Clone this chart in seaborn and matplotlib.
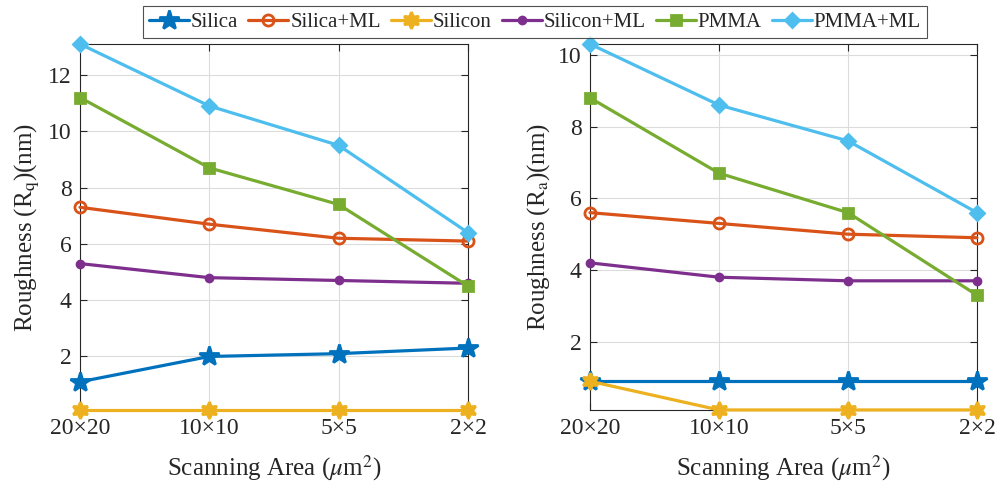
import matplotlib
matplotlib.use("Agg")
import matplotlib.pyplot as plt
import seaborn as sns
import pandas as pd

areas = ["20×20", "10×10", "5×5", "2×2"]
series = ["Silica", "Silica+ML", "Silicon", "Silicon+ML", "PMMA", "PMMA+ML"]

rq_silica = [1.1, 2.0, 2.1, 2.3]
rq_silica_ml = [7.3, 6.7, 6.2, 6.1]
rq_silicon = [0.1, 0.1, 0.1, 0.1]
rq_silicon_ml = [5.3, 4.8, 4.7, 4.6]
rq_pmma = [11.2, 8.7, 7.4, 4.5]
rq_pmma_ml = [13.1, 10.9, 9.5, 6.4]

ra_silica = [0.9, 0.9, 0.9, 0.9]
ra_silica_ml = [5.6, 5.3, 5.0, 4.9]
ra_silicon = [0.9, 0.1, 0.1, 0.1]
ra_silicon_ml = [4.2, 3.8, 3.7, 3.7]
ra_pmma = [8.8, 6.7, 5.6, 3.3]
ra_pmma_ml = [10.3, 8.6, 7.6, 5.6]

rq = [rq_silica, rq_silica_ml, rq_silicon, rq_silicon_ml, rq_pmma, rq_pmma_ml]
ra = [ra_silica, ra_silica_ml, ra_silicon, ra_silicon_ml, ra_pmma, ra_pmma_ml]

colors = ["#0072BD", "#D95319", "#EDB120", "#7E2F8E", "#77AC30", "#4DBEEE"]
markers = ["*", "o", (6, 1, 0), "o", "s", "D"]
msizes = [15, 8, 12, 5, 6.5, 7.5]
mfaces = [None, "none", None, None, None, None]

sns.set_theme(style="whitegrid")
SERIF = ["Liberation Serif", "DejaVu Serif"]
plt.rcParams["font.family"] = SERIF
plt.rcParams["mathtext.fontset"] = "stix"

fig = plt.figure(figsize=(10, 4.84), dpi=100)
ax1 = fig.add_axes([0.080, 0.153, 0.388, 0.756])
ax2 = fig.add_axes([0.590, 0.153, 0.387, 0.756])

def draw(ax, data, ylim, yticks, ylabel):
    for name, vals, c, m, ms, mf in zip(series, data, colors, markers, msizes, mfaces):
        df = pd.DataFrame({"area": areas, "val": vals})
        sns.lineplot(data=df, x="area", y="val", ax=ax, color=c, linewidth=2.3,
                     marker=m, markersize=ms, markeredgecolor=c,
                     markerfacecolor=(mf if mf else c), markeredgewidth=2.0,
                     sort=False, label=name, legend=False, clip_on=False, zorder=3)
    ax.set_xlim(-0.0, 3.0)
    ax.set_ylim(*ylim)
    ax.set_yticks(yticks)
    ax.set_yticklabels([str(t) for t in yticks])
    ax.set_xticks(range(len(areas)))
    ax.set_xticklabels(areas)
    ax.grid(True, color="#DCDCDC", linewidth=0.8)
    ax.set_facecolor("white")
    for s in ax.spines.values():
        s.set_visible(True)
        s.set_color("#262626")
        s.set_linewidth(0.8)
    ax.tick_params(direction="in", length=5, width=0.8, labelsize=17, colors="#262626",
                   top=True, right=True, left=True, bottom=True, pad=6)
    for lab in ax.get_xticklabels() + ax.get_yticklabels():
        lab.set_fontfamily(SERIF)
    ax.set_xlabel(r"Scanning Area ($\mu$m$^2$)", fontsize=18, color="#262626", labelpad=10,
                  fontfamily=SERIF)
    ax.set_ylabel(ylabel, fontsize=18, color="#262626", fontfamily=SERIF)

draw(ax1, rq, (0.1, 13.1), [2, 4, 6, 8, 10, 12], r"Roughness (R$_\mathrm{q}$)(nm)")
draw(ax2, ra, (0.1, 10.3), [2, 4, 6, 8, 10], r"Roughness (R$_\mathrm{a}$)(nm)")

handles, labels = ax1.get_legend_handles_labels()
leg = fig.legend(handles, labels, loc="center", bbox_to_anchor=(0.535, 0.954), ncol=6,
                 prop={"family": SERIF, "size": 15}, frameon=True, fancybox=False,
                 edgecolor="#262626", handlelength=1.9, handletextpad=0.1,
                 columnspacing=0.5, borderpad=0.3, borderaxespad=0.2)
leg.get_frame().set_linewidth(0.8)

fig.savefig("out.png", dpi=100, facecolor="white")
